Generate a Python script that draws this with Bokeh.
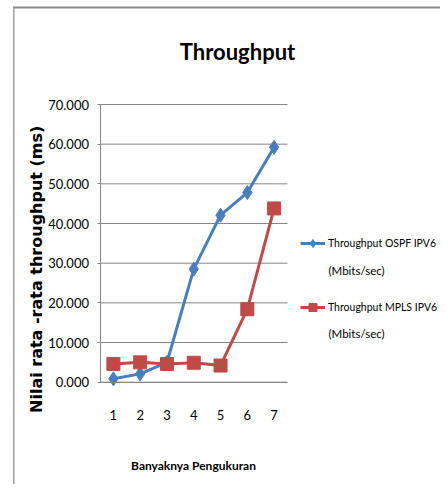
import math
from bokeh.plotting import figure
from bokeh.models import (FixedTicker, NumeralTickFormatter, Range1d, Legend,
                          LegendItem, Label, BoxAnnotation, LinearAxis)
from bokeh.embed import file_html
from bokeh.resources import INLINE

# ---- data ----
measurements = [1, 2, 3, 4, 5, 6, 7]
ospf_ipv6 = [0.85, 2.1, 5.0, 28.5, 42.1, 47.8, 59.2]
mpls_ipv6 = [4.6, 5.0, 4.6, 4.9, 4.2, 18.4, 43.8]
y_ticks = [0, 10, 20, 30, 40, 50, 60, 70]
title_text = "Throughput"
x_title = "Banyaknya Pengukuran"
y_title = "Nilai rata -rata throughput  (ms)"
ospf_label = "Throughput OSPF IPV6"
mpls_label = "Throughput MPLS IPV6"
unit_label = "(Mbits/sec)"

BLUE = "#4A7EBB"
RED = "#BE4B48"
GRID = "#868686"
FONT = "Lato"

# ---- layout (figure pixels) ----
W, H = 440, 484
PL, PR, PT, PB = 99.5, 287, 104, 381.7      # plot-area box inside the figure
x_lo, x_hi = measurements[0] - 0.5, measurements[-1] + 0.5
y_lo, y_hi = y_ticks[0], y_ticks[-1]
sx = (PR - PL) / (x_hi - x_lo)
sy = (PB - PT) / (y_hi - y_lo)

p = figure(width=W, height=H, output_backend="svg", toolbar_location=None,
           x_range=Range1d(x_lo - PL / sx, x_hi + (W - PR) / sx),
           y_range=Range1d(y_lo - (H - PB) / sy, y_hi + PT / sy),
           x_axis_location=None, y_axis_location=None,
           min_border=0)
p.outline_line_color = None
p.background_fill_color = "white"
p.border_fill_color = "white"
p.grid.grid_line_color = None

# horizontal gridlines over the plot area
p.segment(x0=[x_lo] * len(y_ticks), x1=[x_hi] * len(y_ticks), y0=y_ticks, y1=y_ticks,
          line_color=GRID, line_width=1)

# axes
yaxis = LinearAxis(fixed_location=x_lo, bounds=(y_lo, y_hi),
                   ticker=FixedTicker(ticks=y_ticks),
                   formatter=NumeralTickFormatter(format="0.000"))
yaxis.axis_line_color = GRID
yaxis.major_tick_line_color = GRID
yaxis.major_tick_out = 3
yaxis.major_tick_in = 0
yaxis.minor_tick_line_color = None
yaxis.major_label_standoff = 8
yaxis.major_label_text_font = FONT
yaxis.major_label_text_font_size = "13px"
yaxis.major_label_text_color = "#000000"
p.add_layout(yaxis, "left")

xaxis = LinearAxis(fixed_location=y_lo, bounds=(x_lo, x_hi),
                   ticker=FixedTicker(ticks=measurements))
xaxis.axis_line_color = GRID
xaxis.major_tick_line_color = None
xaxis.minor_tick_line_color = None
xaxis.major_tick_out = 0
xaxis.major_tick_in = 0
xaxis.major_label_standoff = 28
xaxis.major_label_text_font = FONT
xaxis.major_label_text_font_size = "13px"
xaxis.major_label_text_color = "#000000"
p.add_layout(xaxis, "below")

# series
l1 = p.line(measurements, ospf_ipv6, line_color=BLUE, line_width=3)
s1 = p.scatter(measurements, ospf_ipv6, marker="diamond", size=14,
               fill_color=BLUE, line_color=BLUE)
l2 = p.line(measurements, mpls_ipv6, line_color=RED, line_width=3)
s2 = p.scatter(measurements, mpls_ipv6, marker="square", size=13,
               fill_color=RED, line_color=RED)

legend = Legend(items=[LegendItem(label=ospf_label, renderers=[l1, s1]),
                       LegendItem(label=mpls_label, renderers=[l2, s2])],
                location=(300, 167), orientation="vertical",
                background_fill_alpha=0, border_line_alpha=0,
                padding=0, margin=0, spacing=44, glyph_width=25, glyph_height=20,
                label_standoff=3, label_height=20,
                label_text_font=FONT, label_text_font_size="10.5px",
                label_text_color="#000000")
p.add_layout(legend, "center")

for yy in (214, 151):
    p.add_layout(Label(x=328, y=yy, x_units="screen", y_units="screen",
                       text=unit_label, text_font=FONT, text_font_size="11.5px",
                       text_color="#000000", text_baseline="middle",
                       text_align="left"))

p.add_layout(Label(x=237, y=433, x_units="screen", y_units="screen",
                   text=title_text, text_font=FONT, text_font_style="bold",
                   text_font_size="22px", text_color="#000000",
                   text_baseline="middle", text_align="center"))

p.add_layout(Label(x=193, y=19, x_units="screen", y_units="screen",
                   text=x_title, text_font=FONT, text_font_style="bold",
                   text_font_size="12px", text_color="#000000",
                   text_baseline="middle", text_align="center"))

p.add_layout(Label(x=36, y=218, x_units="screen", y_units="screen",
                   text=y_title, angle=math.pi / 2, text_font="DejaVu Sans",
                   text_font_style="bold", text_font_size="16px",
                   text_color="#000000", text_baseline="middle",
                   text_align="center"))

# border lines (top and left edge of the chart box)
p.add_layout(BoxAnnotation(left=12.5, right=W, top=478, bottom=476,
                           left_units="screen", right_units="screen",
                           top_units="screen", bottom_units="screen",
                           fill_color="#8c8c8c", fill_alpha=1, line_color=None))
p.add_layout(BoxAnnotation(left=12.5, right=14, top=478, bottom=0,
                           left_units="screen", right_units="screen",
                           top_units="screen", bottom_units="screen",
                           fill_color="#a0a0a0", fill_alpha=1, line_color=None))

open("out.html", "w").write(file_html(p, INLINE))
